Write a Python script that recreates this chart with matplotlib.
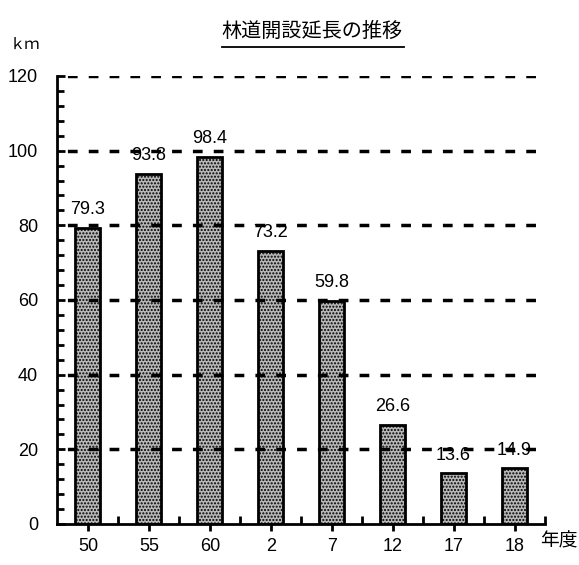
import numpy as np
import matplotlib
matplotlib.use("Agg")
from matplotlib import pyplot as plt
from matplotlib.lines import Line2D

plt.rcParams['font.family'] = ['Liberation Sans', 'Noto Sans CJK JP', 'DejaVu Sans']
plt.rcParams['hatch.linewidth'] = 1.0
plt.rcParams['hatch.color'] = '#3c3c3c'

# data
years = ["50", "55", "60", "2", "7", "12", "17", "18"]
lengths = [79.3, 93.8, 98.4, 73.2, 59.8, 26.6, 13.6, 14.9]
y_ticks = [0, 20, 40, 60, 80, 100, 120]

fig = plt.figure(figsize=(5.79, 5.65), dpi=100)
ax = fig.add_axes([0.0993, 0.0726, 0.8420, 0.7929])

x = np.arange(len(years))
bars = ax.bar(x, lengths, width=0.41, color='#b8b8b8', edgecolor='black', linewidth=2,
              hatch='.....', zorder=2)

for xi, v in zip(x, lengths):
    ax.text(xi, v + 2.6, f"{v:.1f}", ha='center', va='bottom', fontsize=13, zorder=3)

# dashed gridlines drawn on top, like the original
for yv in y_ticks[1:]:
    ax.axhline(yv, color='black', linestyle=(3, (2.8, 3.2)), linewidth=2.5, zorder=4)

ax.set_xlim(-0.5, len(years) - 0.5)
ax.set_ylim(0, 120)
ax.spines['top'].set_visible(False)
ax.spines['right'].set_visible(False)
ax.spines['left'].set_linewidth(2)
ax.spines['bottom'].set_linewidth(2)

ax.set_yticks(y_ticks)
ax.set_yticks(np.arange(0, 121, 4), minor=True)
ax.tick_params(axis='y', which='major', direction='in', length=6, width=2, labelsize=13, pad=14)
ax.tick_params(axis='y', which='minor', direction='in', length=5, width=2)

ax.set_xticks(x)
ax.set_xticklabels(years)
ax.set_xticks(np.arange(0.5, len(years), 1), minor=True)
ax.tick_params(axis='x', which='major', direction='inout', length=10, width=2, labelsize=13, pad=5)
ax.tick_params(axis='x', which='minor', direction='in', length=6, width=2)

fig.text(0.539, 0.945, "林道開設延長の推移", ha='center', va='center', fontsize=14.5,
         family=['Noto Sans CJK JP'])
fig.add_artist(Line2D([0.383, 0.697], [0.917, 0.917], color='black', linewidth=1.3))
fig.text(0.016, 0.921, "ｋｍ", ha='left', va='center', fontsize=11, family=['Noto Sans CJK JP'])
fig.text(0.932, 0.043, "年度", ha='left', va='center', fontsize=13.5, family=['Noto Sans CJK JP'])

fig.savefig("out.png", dpi=100)
